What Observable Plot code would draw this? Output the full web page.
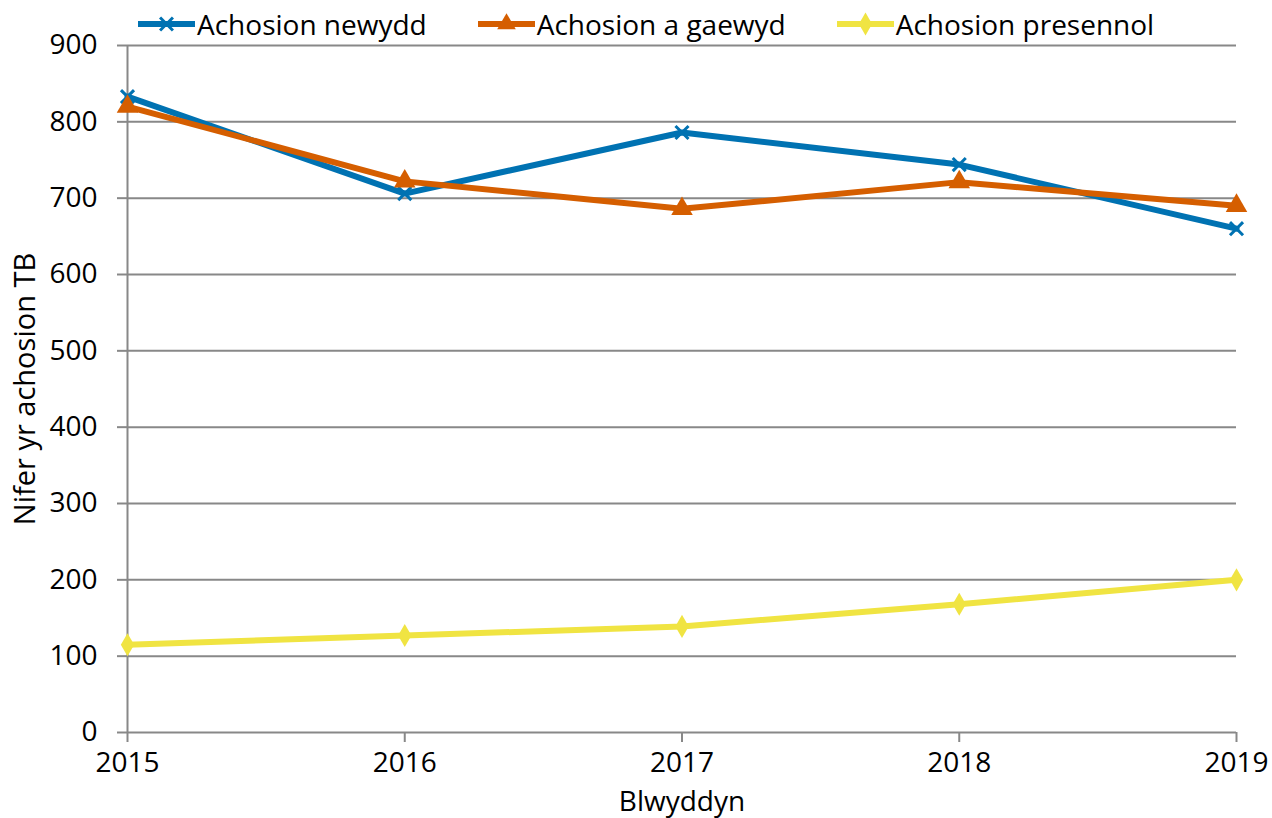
<!DOCTYPE html>
<html><head><meta charset="utf-8">
<script src="https://cdn.jsdelivr.net/npm/d3@7"></script>
<script src="https://cdn.jsdelivr.net/npm/@observablehq/plot@0.6"></script>
<style>
html,body{margin:0;padding:0;background:#fff;}
#wrap{position:relative;width:1272px;height:818px;font-family:"Open Sans",sans-serif;}
#legend{position:absolute;top:5px;left:138px;display:flex;align-items:center;font-size:28px;color:#000;white-space:nowrap;}
.item{display:flex;align-items:center;margin-right:51px;}
.item svg{margin-right:2px;}
#chart svg{overflow:visible;}
</style>
</head><body>
<div id="wrap"><div id="legend"></div><div id="chart"></div></div>
<script>
const years = [2015, 2016, 2017, 2018, 2019];
const seriesNames = ["Achosion newydd", "Achosion a gaewyd", "Achosion presennol"];
const newydd = [833, 706, 786, 744, 660];
const gaewyd = [820, 722, 686, 721, 690];
const presennol = [115, 127, 139, 168, 200];
const yTicks = [0, 100, 200, 300, 400, 500, 600, 700, 800, 900];
const colors = ["#0072B2", "#D55E00", "#F0E442"];
const symbols = ["times", "triangle", "diamond"];

const values = [newydd, gaewyd, presennol];
const data = [];
seriesNames.forEach((s, i) => years.forEach((y, j) => data.push({series: s, year: y, value: values[i][j]})));

const grey = "#888888";
const marks = [
  Plot.gridY(yTicks.filter(d => d > 0), {stroke: grey, strokeOpacity: 1, strokeWidth: 2}),
  Plot.ruleY([0], {stroke: grey, strokeWidth: 2}),
  Plot.ruleX([years[0]], {stroke: grey, strokeWidth: 2}),
  Plot.axisY(yTicks, {tickSize: 10, tickPadding: 20, stroke: grey, strokeWidth: 2, fontSize: 28, fill: "#000", label: null}),
  Plot.axisY({ticks: [], tickSize: 0, fontSize: 29, fill: "#000",
    label: "Nifer yr achosion TB", labelAnchor: "center", labelArrow: "none", labelOffset: 113}),
  Plot.axisX(years, {tickSize: 10, tickPadding: 10, stroke: grey, strokeWidth: 2, fontSize: 28, fill: "#000",
    tickFormat: d => String(d), label: "Blwyddyn", labelAnchor: "center", labelArrow: "none", labelOffset: 78})
];
seriesNames.forEach((s, i) => {
  const d = data.filter(r => r.series === s);
  marks.push(Plot.line(d, {x: "year", y: "value", stroke: colors[i], strokeWidth: 6}));
  if (symbols[i] === "times") {
    marks.push(Plot.dot(d, {x: "year", y: "value", symbol: "times", stroke: colors[i], strokeWidth: 3, r: 6}));
  } else {
    marks.push(Plot.dot(d, {x: "year", y: "value", symbol: symbols[i], fill: colors[i], stroke: "none", r: i === 1 ? 8 : 7}));
  }
});

const chart = Plot.plot({
  width: 1272, height: 818,
  marginTop: 45, marginBottom: 86, marginLeft: 127, marginRight: 36,
  style: {fontFamily: "Open Sans, sans-serif", fontSize: "28px", background: "#fff", color: "#000"},
  x: {domain: [2015, 2019]},
  y: {domain: [0, 900]},
  marks
});
document.getElementById("chart").appendChild(chart);

// Legend
const legend = d3.select("#legend");
seriesNames.forEach((s, i) => {
  const item = legend.append("div").attr("class", "item");
  const svg = item.append("svg").attr("width", 57).attr("height", 30);
  svg.append("line").attr("x1", 0).attr("x2", 57).attr("y1", 15).attr("y2", 15).attr("stroke", colors[i]).attr("stroke-width", 6);
  const sym = {times: d3.symbolTimes, triangle: d3.symbolTriangle, diamond: d3.symbolDiamond}[symbols[i]];
  const p = svg.append("path").attr("transform", "translate(28.5,15)")
    .attr("d", d3.symbol(sym, symbols[i] === "times" ? 110 : 150)());
  if (symbols[i] === "times") p.attr("fill", "none").attr("stroke", colors[i]).attr("stroke-width", 3);
  else p.attr("fill", colors[i]);
  item.append("span").text(s);
});
</script>
</body></html>
